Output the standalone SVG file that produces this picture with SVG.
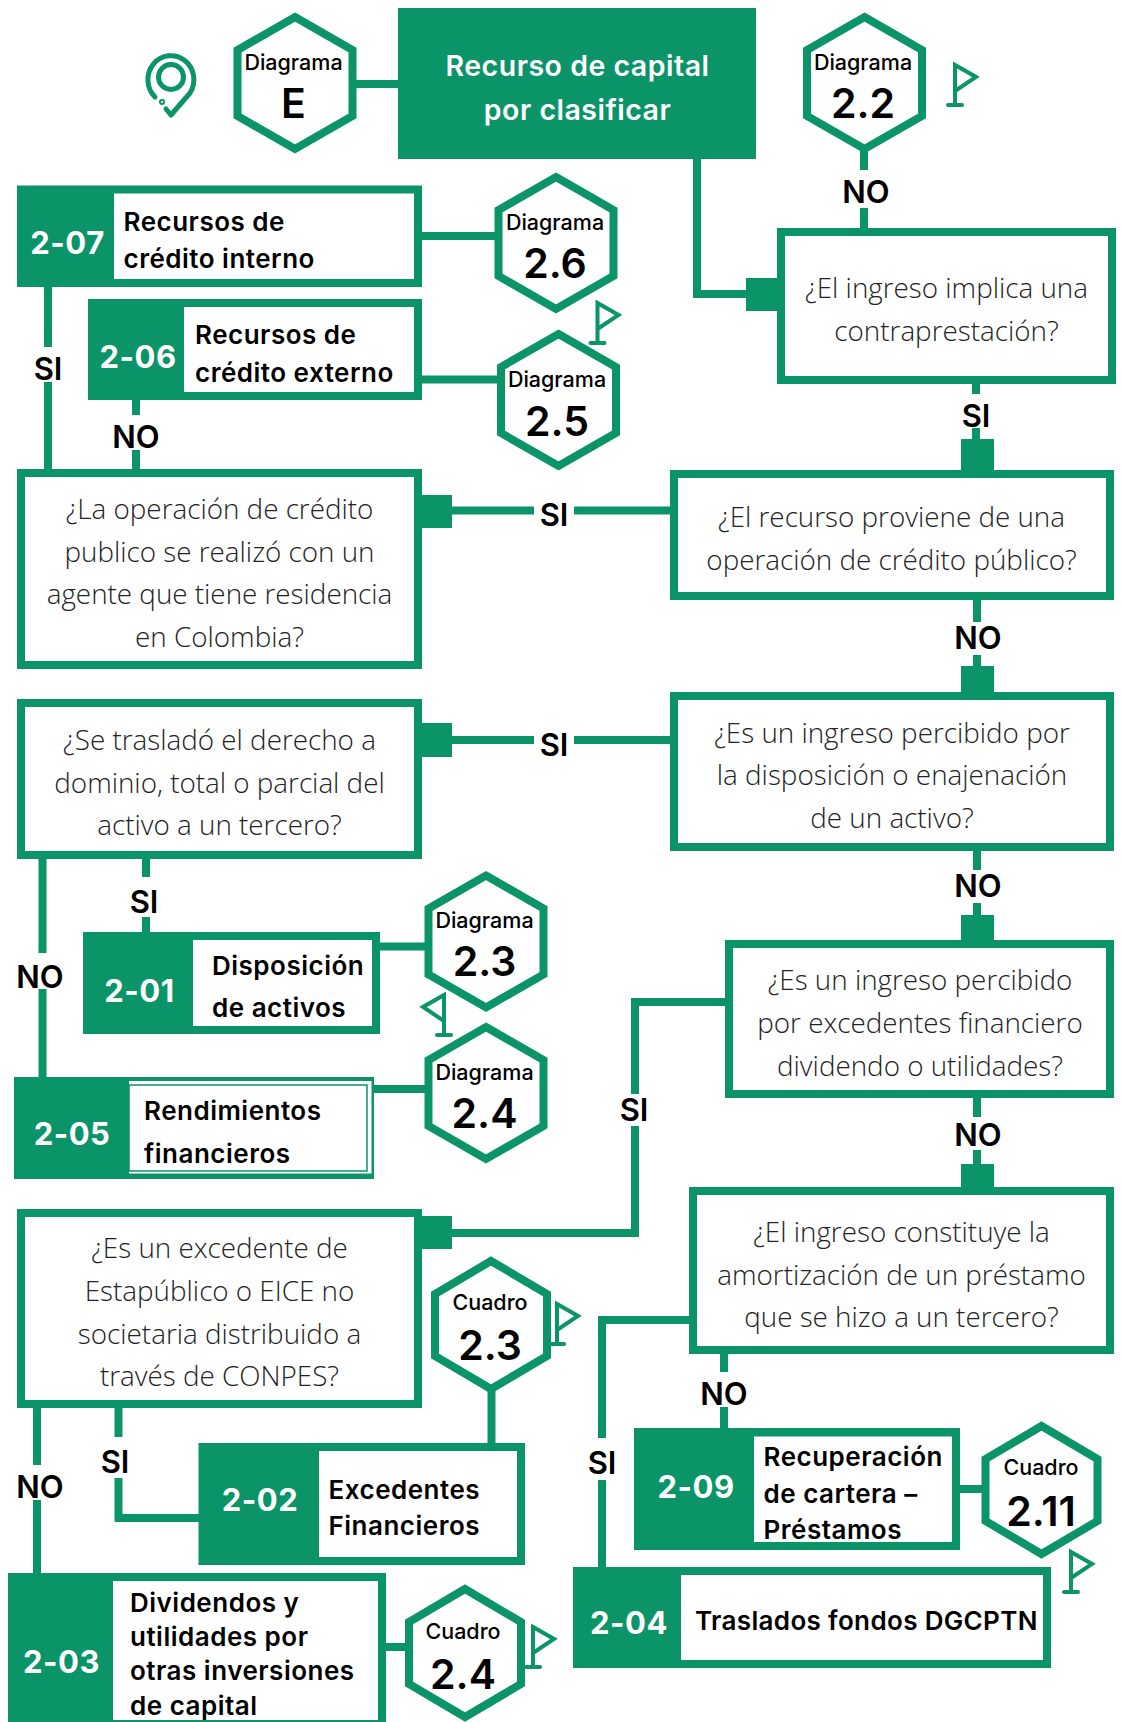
<svg xmlns="http://www.w3.org/2000/svg" width="1122" height="1722" viewBox="0 0 1122 1722">
<style>
.g{fill:#0a9468}
.w{fill:#fff}
.ln{fill:none;stroke:#0a9468;stroke-width:8}
.q{fill:#fff;stroke:#0a9468;stroke-width:8}
.hx{fill:#fff;stroke:#0a9468;stroke-width:8}
.fl{fill:none;stroke:#0a9468;stroke-width:4;stroke-linecap:round;stroke-linejoin:miter}
text{font-family:"Inter","Liberation Sans",sans-serif;transform:translateY(1px)}
.qt{font-family:"Open Sans","Liberation Sans",sans-serif;font-weight:300;font-size:27.8px;fill:#222;text-anchor:middle}
.b{font-weight:600;font-size:26px;letter-spacing:.5px;fill:#000}
.code{font-weight:700;font-size:31px;letter-spacing:.5px;fill:#fff;text-anchor:middle}
.mt{font-weight:600;font-size:28.5px;letter-spacing:.5px;fill:#fff;text-anchor:middle}
.lb{font-weight:600;font-size:31px;fill:#000;text-anchor:middle}
.h1{font-weight:500;font-size:21.5px;fill:#000;text-anchor:middle}
.h2{font-weight:600;font-size:41px;fill:#000;text-anchor:middle}
</style>
<defs>
<polygon id="hexD" class="hx" points="0,-66 57.500,-33 57.500,33 0,66 -57.500,33 -57.500,-33"/>
<polygon id="hexC" class="hx" points="0,-64 56,-31 56,31 0,64 -56,31 -56,-31"/>
<g id="flag" class="fl"><path d="M0 42V2L21 14L0 28"/><path d="M-7 42H7"/></g>
</defs>

<g id="connectors">
<path class="ln" d="M356 84H398"/>
<path class="ln" d="M697 159V294H750"/>
<path class="ln" d="M864 150V170M864 208V228"/>
<path class="ln" d="M422 236H497"/>
<path class="ln" d="M422 379.500H500"/>
<path class="ln" d="M48 287V347M48 382V470"/>
<path class="ln" d="M136 400V415M136 450V470"/>
<path class="ln" d="M976 384V394M976 428V440"/>
<path class="ln" d="M440 510.500H534M574 510.500H671"/>
<path class="ln" d="M977 600V622M977 655V668"/>
<path class="ln" d="M440 740H534M574 740H671"/>
<path class="ln" d="M977 851V870M977 903V917"/>
<path class="ln" d="M977 1098V1117M977 1150V1166"/>
<path class="ln" d="M42.500 859V953M42.500 989V1078"/>
<path class="ln" d="M146 859V877M146 917V933"/>
<path class="ln" d="M380 946.500H426"/>
<path class="ln" d="M374 1089H426"/>
<path class="ln" d="M440 1233H635V1126M635 1094V1002H726"/>
<path class="ln" d="M691 1320H602V1438M602 1480V1568"/>
<path class="ln" d="M724 1354V1372M724 1407V1429"/>
<path class="ln" d="M960 1489H985"/>
<path class="ln" d="M37 1408V1465M37 1500V1574"/>
<path class="ln" d="M118.500 1408V1437M118.500 1478V1518H199"/>
<path class="ln" d="M491.500 1388V1444"/>
<path class="ln" d="M386 1647H408"/>
<rect class="g" x="746" y="278" width="32" height="33"/>
<rect class="g" x="961" y="439" width="33" height="33"/>
<rect class="g" x="420" y="495" width="32" height="33"/>
<rect class="g" x="961" y="666" width="33" height="28"/>
<rect class="g" x="420" y="723" width="32" height="34"/>
<rect class="g" x="961" y="915" width="33" height="27"/>
<rect class="g" x="961" y="1164" width="33" height="27"/>
<rect class="g" x="420" y="1216" width="32" height="33"/>
<text class="lb" x="866" y="202">NO</text>
<text class="lb" x="48" y="379">SI</text>
<text class="lb" x="136" y="447">NO</text>
<text class="lb" x="976" y="426">SI</text>
<text class="lb" x="554" y="525">SI</text>
<text class="lb" x="978" y="648">NO</text>
<text class="lb" x="554" y="755">SI</text>
<text class="lb" x="978" y="896">NO</text>
<text class="lb" x="978" y="1145">NO</text>
<text class="lb" x="144" y="912">SI</text>
<text class="lb" x="40" y="987">NO</text>
<text class="lb" x="634" y="1120">SI</text>
<text class="lb" x="602" y="1473">SI</text>
<text class="lb" x="724" y="1404">NO</text>
<text class="lb" x="40" y="1497">NO</text>
<text class="lb" x="115" y="1472">SI</text>
</g>

<g id="decor">
<g id="pin" fill="none" stroke="#0a9468" stroke-width="5" stroke-linecap="round" stroke-linejoin="round">
<path d="M155 97A23 24 0 1 1 190 93L171 115L166 109"/>
<circle cx="171" cy="77" r="12.500"/>
<circle cx="162" cy="102" r="1" stroke-width="4"/>
</g>
<use href="#flag" transform="translate(955,63)"/>
<use href="#flag" transform="translate(597.500,301)"/>
<use href="#flag" transform="translate(444,993) scale(-1,1)"/>
<use href="#flag" transform="translate(557,1302)"/>
<use href="#flag" transform="translate(1071,1550)"/>
<use href="#flag" transform="translate(533,1625)"/>
</g>

<g id="main"><rect class="g" x="398" y="8" width="358" height="151"/>
<text class="mt" x="577.500" y="75">Recurso de capital</text><text class="mt" x="577.500" y="119">por clasificar</text></g>

<g id="hex-E"><use href="#hexD" x="295" y="83"/><text class="h1" x="293.500" y="69">Diagrama</text><text class="h2" x="293.500" y="117">E</text></g>
<g id="hex-22"><use href="#hexD" x="864.500" y="83"/><text class="h1" x="863" y="69">Diagrama</text><text class="h2" x="863" y="117">2.2</text></g>
<g id="hex-26"><use href="#hexD" x="556" y="243"/><text class="h1" x="555" y="229">Diagrama</text><text class="h2" x="555" y="277">2.6</text></g>
<g id="hex-25"><use href="#hexD" x="558.500" y="400"/><text class="h1" x="557" y="386">Diagrama</text><text class="h2" x="557" y="435">2.5</text></g>
<g id="hex-23"><use href="#hexD" x="486" y="941.500"/><text class="h1" x="484.500" y="927">Diagrama</text><text class="h2" x="484.500" y="975">2.3</text></g>
<g id="hex-24"><use href="#hexD" x="486" y="1093"/><text class="h1" x="484.500" y="1079">Diagrama</text><text class="h2" x="484.500" y="1127">2.4</text></g>
<g id="cuadro-23"><use href="#hexC" x="491" y="1325"/><text class="h1" x="490" y="1309">Cuadro</text><text class="h2" x="490" y="1359">2.3</text></g>
<g id="cuadro-211"><use href="#hexC" x="1041.500" y="1490"/><text class="h1" x="1041" y="1474">Cuadro</text><text class="h2" x="1041" y="1525">2.11</text></g>
<g id="cuadro-24"><use href="#hexC" x="465" y="1653"/><text class="h1" x="463" y="1638">Cuadro</text><text class="h2" x="463" y="1688">2.4</text></g>

<g id="n-2-07"><rect class="g" x="17" y="185.500" width="405" height="101.500"/><rect class="w" x="114" y="193.500" width="300" height="85.500"/>
<text class="code" x="67.500" y="253">2-07</text><text class="b" x="123.500" y="230">Recursos de</text><text class="b" x="123.500" y="267">crédito interno</text></g>
<g id="n-2-06"><rect class="g" x="88" y="299" width="334" height="101"/><rect class="w" x="184" y="307" width="230" height="85"/>
<text class="code" x="138" y="367">2-06</text><text class="b" x="195" y="343">Recursos de</text><text class="b" x="195" y="381">crédito externo</text></g>
<g id="n-2-01"><rect class="g" x="83" y="932" width="297" height="102"/><rect class="w" x="193" y="940" width="179" height="86"/>
<text class="code" x="139.500" y="1001">2-01</text><text class="b" x="212" y="974">Disposición</text><text class="b" x="212" y="1016">de activos</text></g>
<g id="n-2-05"><rect class="g" x="14" y="1077" width="360" height="102"/><rect class="w" x="129" y="1081" width="242.500" height="92.500"/><rect x="129" y="1085" width="238" height="86" fill="#fff" stroke="#0a9468" stroke-width="1.500"/>
<text class="code" x="72" y="1144">2-05</text><text class="b" x="144" y="1119">Rendimientos</text><text class="b" x="144" y="1162">financieros</text></g>
<g id="n-2-09"><rect class="g" x="634" y="1428" width="326" height="122"/><rect class="w" x="754" y="1436.500" width="198" height="105.500"/>
<text class="code" x="696" y="1497">2-09</text><text class="b" x="763.500" y="1465">Recuperación</text><text class="b" x="763.500" y="1502">de cartera –</text><text class="b" x="763.500" y="1538">Préstamos</text></g>
<g id="n-2-04"><rect class="g" x="573" y="1567" width="478" height="101"/><rect class="w" x="681" y="1575" width="362" height="85"/>
<text class="code" x="629" y="1633">2-04</text><text class="b" x="695" y="1629" style="letter-spacing:.35px">Traslados fondos DGCPTN</text></g>
<g id="n-2-02"><rect class="g" x="198.500" y="1443" width="326.500" height="122"/><rect class="w" x="319" y="1451" width="198" height="106"/>
<text class="code" x="260" y="1510">2-02</text><text class="b" x="328.500" y="1498">Excedentes</text><text class="b" x="328.500" y="1534">Financieros</text></g>
<g id="n-2-03"><rect class="g" x="8" y="1573" width="378" height="149"/><rect class="w" x="113" y="1581" width="265" height="139"/>
<text class="code" x="61.500" y="1672">2-03</text><text class="b" x="130" y="1611">Dividendos y</text><text class="b" x="130" y="1645">utilidades por</text><text class="b" x="130" y="1679">otras inversiones</text><text class="b" x="130" y="1714">de capital</text></g>

<g id="q-ingreso"><rect class="q" x="781" y="232" width="331" height="148"/><text class="qt" x="946.500" y="297">¿El ingreso implica una</text><text class="qt" x="946.500" y="340">contraprestación?</text></g>
<g id="q-recurso"><rect class="q" x="674" y="474" width="436" height="122"/><text class="qt" x="891.500" y="526">¿El recurso proviene de una</text><text class="qt" x="891.500" y="569">operación de crédito público?</text></g>
<g id="q-credito"><rect class="q" x="21" y="473" width="397" height="192"/><text class="qt" x="219.500" y="518">¿La operación de crédito</text><text class="qt" x="219.500" y="561">publico se realizó con un</text><text class="qt" x="219.500" y="603">agente que tiene residencia</text><text class="qt" x="219.500" y="646">en Colombia?</text></g>
<g id="q-disposicion"><rect class="q" x="674" y="696" width="436" height="151"/><text class="qt" x="892" y="742">¿Es un ingreso percibido por</text><text class="qt" x="892" y="784">la disposición o enajenación</text><text class="qt" x="892" y="827">de un activo?</text></g>
<g id="q-traslado"><rect class="q" x="21" y="703" width="397" height="152"/><text class="qt" x="219.500" y="749">¿Se trasladó el derecho a</text><text class="qt" x="219.500" y="792">dominio, total o parcial del</text><text class="qt" x="219.500" y="834">activo a un tercero?</text></g>
<g id="q-excedentes"><rect class="q" x="729" y="944" width="381" height="150"/><text class="qt" x="920" y="989">¿Es un ingreso percibido</text><text class="qt" x="920" y="1032">por excedentes financiero</text><text class="qt" x="920" y="1075">dividendo o utilidades?</text></g>
<g id="q-amortizacion"><rect class="q" x="693" y="1191" width="417" height="159"/><text class="qt" x="901.500" y="1241">¿El ingreso constituye la</text><text class="qt" x="901.500" y="1284">amortización de un préstamo</text><text class="qt" x="901.500" y="1326">que se hizo a un tercero?</text></g>
<g id="q-estapublico"><rect class="q" x="21" y="1213" width="397" height="191"/><text class="qt" x="219.500" y="1257">¿Es un excedente de</text><text class="qt" x="219.500" y="1300">Estapúblico o EICE no</text><text class="qt" x="219.500" y="1343">societaria distribuido a</text><text class="qt" x="219.500" y="1385">través de CONPES?</text></g>
</svg>
